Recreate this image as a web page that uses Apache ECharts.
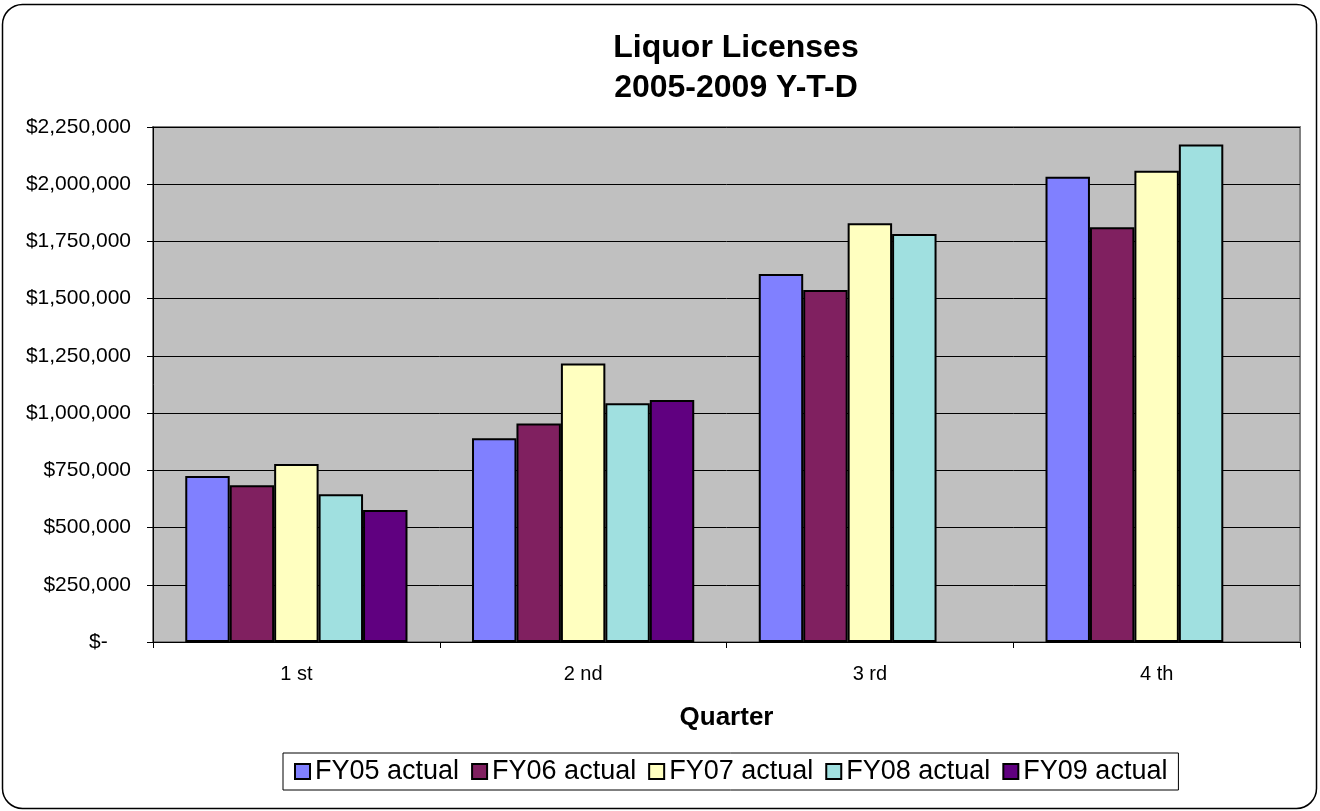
<!DOCTYPE html>
<html>
<head>
<meta charset="utf-8">
<script src="https://cdn.jsdelivr.net/npm/echarts@6/dist/echarts.min.js"></script>
<style>
html,body{margin:0;padding:0;background:#fff;}
#main{width:1320px;height:811px;}
</style>
</head>
<body>
<div id="main"></div>
<script>
var categories = ['1 st', '2 nd', '3 rd', '4 th'];
var seriesNames = ['FY05 actual', 'FY06 actual', 'FY07 actual', 'FY08 actual', 'FY09 actual'];
var fy05 = [725000, 890000, 1608000, 2033000];
var fy06 = [685000, 955000, 1538000, 1812000];
var fy07 = [778000, 1217000, 1829000, 2059000];
var fy08 = [646000, 1043000, 1782000, 2174000];
var fy09 = [577000, 1057000, null, null];
var colors = ['#8080FF', '#802060', '#FFFFC0', '#A0E0E0', '#600080'];

var allData = [fy05, fy06, fy07, fy08, fy09];

function fmtMoney(v) {
  if (v === 0) return '$-    ';
  var s = String(Math.round(v));
  var out = '';
  while (s.length > 3) { out = ',' + s.slice(-3) + out; s = s.slice(0, -3); }
  return '$' + s + out;
}

var chart = echarts.init(document.getElementById('main'));
var font = 'Liberation Sans, Arial, sans-serif';

var series = seriesNames.map(function (name, i) {
  return {
    name: name,
    type: 'bar',
    data: allData[i],
    barGap: '0%',
    barCategoryGap: '22.5%',
    itemStyle: { color: colors[i], borderColor: '#000', borderWidth: 2 },
    emphasis: { disabled: true }
  };
});

chart.setOption({
  animation: false,
  textStyle: { fontFamily: font },
  graphic: [{
    type: 'rect',
    shape: { x: 2.5, y: 4.5, width: 1314, height: 804, r: 20 },
    style: { fill: 'none', stroke: '#000', lineWidth: 1.5 },
    silent: true,
    z: -10
  }],
  title: {
    text: 'Liquor Licenses\n2005-2009 Y-T-D',
    left: 731,
    top: 23,
    textAlign: 'center',
    textStyle: { fontFamily: font, fontSize: 32, fontWeight: 'bold', color: '#000', lineHeight: 40 }
  },
  legend: {
    data: seriesNames,
    icon: 'rect',
    left: 283,
    top: 753,
    orient: 'horizontal',
    itemWidth: 15,
    itemHeight: 15,
    itemGap: 12,
    padding: [5, 11, 5, 11],
    borderColor: '#000',
    borderWidth: 1,
    itemStyle: { borderColor: '#000', borderWidth: 2 },
    textStyle: { fontFamily: font, fontSize: 27, color: '#000' },
    selectedMode: false
  },
  grid: {
    left: 153,
    right: 20,
    top: 127,
    bottom: 169,
    show: true,
    backgroundColor: '#C0C0C0',
    borderColor: '#808080',
    borderWidth: 2
  },
  xAxis: {
    type: 'category',
    data: categories,
    name: 'Quarter',
    nameLocation: 'middle',
    nameGap: 63,
    nameTextStyle: { fontFamily: font, fontSize: 26, fontWeight: 'bold', color: '#000' },
    axisLine: { lineStyle: { color: '#000', width: 1 } },
    axisTick: { show: true, length: 6, lineStyle: { color: '#000' } },
    axisLabel: { fontFamily: font, fontSize: 20, color: '#000', margin: 22 }
  },
  yAxis: {
    type: 'value',
    min: 0,
    max: 2250000,
    interval: 250000,
    axisLine: { show: true, lineStyle: { color: '#000', width: 1 } },
    axisTick: { show: true, length: 6, lineStyle: { color: '#000' } },
    splitLine: { show: true, lineStyle: { color: '#000', width: 1 } },
    axisLabel: {
      fontFamily: font, fontSize: 21, color: '#000', margin: 22,
      formatter: function (v) { return fmtMoney(v); }
    }
  },
  series: series
});
</script>
</body>
</html>
